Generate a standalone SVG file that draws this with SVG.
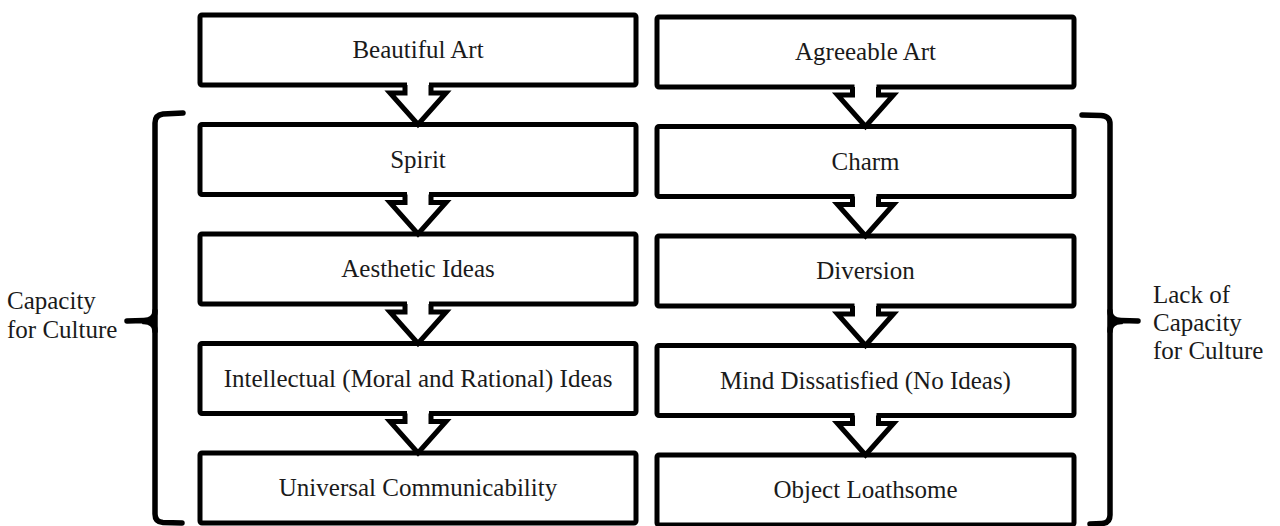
<svg xmlns="http://www.w3.org/2000/svg" width="1280" height="526" viewBox="0 0 1280 526">
<style>
.box{fill:#fff;stroke:#000;stroke-width:5;}
.t{font-family:"Liberation Serif","Times New Roman",serif;font-size:25px;fill:#1a1a1a;text-anchor:middle;}
.lab{font-family:"Liberation Serif","Times New Roman",serif;font-size:25px;fill:#1a1a1a;}
.br{fill:none;stroke:#000;stroke-width:5.5;stroke-linecap:round;stroke-linejoin:round;}
.ah{fill:#fff;stroke:none;}
.al{fill:none;stroke:#000;stroke-width:5;stroke-linejoin:miter;}
</style>
<defs>
<g id="arr">
<path class="ah" d="M-11,-4 L-11,8 L-28,8 L0,39.5 L28,8 L11,8 L11,-4 Z"/>
<path class="al" d="M-13,0 L-13,8 L-28,8 L0,39.5 L28,8 L13,8 L13,0"/>
</g>
</defs>
<rect width="1280" height="526" fill="#fff"/>
<g id="n-beautiful"><rect class="box" x="200" y="15" width="436" height="70" rx="2"/><text class="t" x="418" y="58">Beautiful Art</text></g>
<g id="n-spirit"><rect class="box" x="200" y="124.5" width="436" height="70" rx="2"/><text class="t" x="418" y="167.5">Spirit</text></g>
<g id="n-aesthetic"><rect class="box" x="200" y="234" width="436" height="70" rx="2"/><text class="t" x="418" y="277">Aesthetic Ideas</text></g>
<g id="n-intellectual"><rect class="box" x="200" y="343.5" width="436" height="70" rx="2"/><text class="t" x="418" y="386.5">Intellectual (Moral and Rational) Ideas</text></g>
<g id="n-universal"><rect class="box" x="200" y="453" width="436" height="70" rx="2"/><text class="t" x="418" y="496">Universal Communicability</text></g>
<g id="n-agreeable"><rect class="box" x="657" y="17" width="417" height="70" rx="2"/><text class="t" x="865.5" y="60">Agreeable Art</text></g>
<g id="n-charm"><rect class="box" x="657" y="126.5" width="417" height="70" rx="2"/><text class="t" x="865.5" y="169.5">Charm</text></g>
<g id="n-diversion"><rect class="box" x="657" y="236" width="417" height="70" rx="2"/><text class="t" x="865.5" y="279">Diversion</text></g>
<g id="n-mind"><rect class="box" x="657" y="345.5" width="417" height="70" rx="2"/><text class="t" x="865.5" y="388.5">Mind Dissatisfied (No Ideas)</text></g>
<g id="n-object"><rect class="box" x="657" y="455" width="417" height="70" rx="2"/><text class="t" x="865.5" y="498">Object Loathsome</text></g>
<g id="connectors">
<use href="#arr" transform="translate(418,85)"/>
<use href="#arr" transform="translate(418,194.5)"/>
<use href="#arr" transform="translate(418,304)"/>
<use href="#arr" transform="translate(418,413.5)"/>
<use href="#arr" transform="translate(865.5,87)"/>
<use href="#arr" transform="translate(865.5,196.5)"/>
<use href="#arr" transform="translate(865.5,306)"/>
<use href="#arr" transform="translate(865.5,415.5)"/>
</g>
<g id="bracket-left">
<path class="br" d="M183,113 L163,114 Q155,115 155,123 L155,514 Q155,522 163,522.5 L182,523"/>
<path class="br" d="M155,311 Q155,320 144,320.5 L127,321 M155,331 Q155,322 144,321.5"/>
<text class="lab" x="7" y="309">Capacity</text>
<text class="lab" x="7" y="338">for Culture</text>
</g>
<g id="bracket-right">
<path class="br" d="M1082,115 L1101,115.5 Q1110,116 1110,124 L1110,515 Q1110,523 1102,523.5 L1090,524"/>
<path class="br" d="M1110,311 Q1110,320 1121,320.5 L1138,321 M1110,331 Q1110,322 1121,321.5"/>
<text class="lab" x="1153" y="303">Lack of</text>
<text class="lab" x="1153" y="331">Capacity</text>
<text class="lab" x="1153" y="359">for Culture</text>
</g>
</svg>
